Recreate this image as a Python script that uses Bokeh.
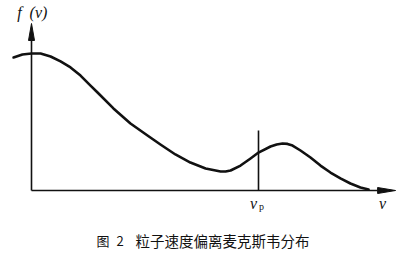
from bokeh.plotting import figure
from bokeh.models import Range1d, Label
from bokeh.embed import file_html
from bokeh.resources import INLINE

# speed v (in units of v_p) and distribution f(v) (in units of its maximum)
v = [-0.079, -0.040, 0.000, 0.040, 0.084, 0.128, 0.172, 0.216, 0.260, 0.291,
     0.361, 0.436, 0.511, 0.568, 0.634, 0.700, 0.767, 0.800, 0.833, 0.855,
     0.877, 0.921, 0.965, 1.000, 1.053, 1.080, 1.106, 1.128, 1.150, 1.185,
     1.229, 1.273, 1.317, 1.361, 1.405, 1.449, 1.485]
f = [0.971, 0.993, 1.000, 1.000, 0.978, 0.942, 0.898, 0.839, 0.766, 0.715,
     0.599, 0.489, 0.401, 0.336, 0.263, 0.204, 0.161, 0.150, 0.139, 0.139,
     0.146, 0.182, 0.234, 0.277, 0.321, 0.336, 0.343, 0.340, 0.328, 0.292,
     0.241, 0.182, 0.131, 0.088, 0.051, 0.022, 0.007]
v_p = 1.0
vp_line_top = 0.438
v_axis_end = 1.604
f_axis_end = 1.219

y_label_f = "f"
y_label_arg = "(v)"
x_label = "v"
vp_label = "v"
vp_sub = "p"
fig_word = "图"
fig_num = "2"
caption = "粒子速度偏离麦克斯韦分布"

W, H = 400, 257
X0, Y0 = 31, 190      # origin in pixels (from top-left)
SX, SY = 227.0, 137.0  # pixels per unit

p = figure(width=W, height=H, output_backend="svg", toolbar_location=None,
           x_range=Range1d(-X0 / SX, (W - X0) / SX),
           y_range=Range1d(-(H - Y0) / SY, Y0 / SY),
           x_axis_type=None, y_axis_type=None, min_border=0)
p.grid.visible = False
p.outline_line_color = None
p.background_fill_color = "white"
p.border_fill_color = "white"

ink = "#111111"

# axes
hx_len, hx_w = 18 / SX, 3 / SY
p.line([0, v_axis_end - hx_len], [0, 0], line_color=ink, line_width=1.6)
p.patch([v_axis_end, v_axis_end - hx_len, v_axis_end - hx_len],
        [0, hx_w, -hx_w], fill_color=ink, line_color=ink, line_width=1)
hy_len, hy_w = 17 / SY, 3 / SX
p.line([0, 0], [0, f_axis_end - hy_len], line_color=ink, line_width=1.6)
p.patch([0, hy_w, -hy_w], [f_axis_end, f_axis_end - hy_len, f_axis_end - hy_len],
        fill_color=ink, line_color=ink, line_width=1)

# v_p marker
p.line([v_p, v_p], [0, vp_line_top], line_color=ink, line_width=1.6)

# curve
p.line(v, f, line_color=ink, line_width=2.6, line_join="round", line_cap="round")

serif = "Liberation Serif"
p.add_layout(Label(x=19, y=H - 12, x_units="screen", y_units="screen", text=y_label_f,
                   text_font=serif, text_font_style="italic", text_font_size="16px",
                   text_align="center", text_baseline="middle", text_color=ink))
p.add_layout(Label(x=38, y=H - 12, x_units="screen", y_units="screen", text=y_label_arg,
                   text_font=serif, text_font_style="italic", text_font_size="16px",
                   text_align="center", text_baseline="middle", text_color=ink))
p.add_layout(Label(x=382, y=H - 203, x_units="screen", y_units="screen", text=x_label,
                   text_font=serif, text_font_style="italic", text_font_size="16px",
                   text_align="center", text_baseline="middle", text_color=ink))
p.add_layout(Label(x=253, y=H - 203, x_units="screen", y_units="screen", text=vp_label,
                   text_font=serif, text_font_style="italic", text_font_size="16px",
                   text_align="center", text_baseline="middle", text_color=ink))
p.add_layout(Label(x=261, y=H - 206, x_units="screen", y_units="screen", text=vp_sub,
                   text_font=serif, text_font_size="10px",
                   text_align="center", text_baseline="middle", text_color=ink))

cjk = "Noto Sans CJK SC"
p.add_layout(Label(x=96, y=H - 240, x_units="screen", y_units="screen", text=fig_word,
                   text_font=cjk, text_font_size="13px",
                   text_align="left", text_baseline="middle", text_color=ink))
p.add_layout(Label(x=116, y=H - 240, x_units="screen", y_units="screen", text=fig_num,
                   text_font=cjk, text_font_size="13px",
                   text_align="left", text_baseline="middle", text_color=ink))
p.add_layout(Label(x=135, y=H - 240, x_units="screen", y_units="screen", text=caption,
                   text_font=cjk, text_font_size="14.5px",
                   text_align="left", text_baseline="middle", text_color=ink))

open("out.html", "w").write(file_html(p, INLINE))
